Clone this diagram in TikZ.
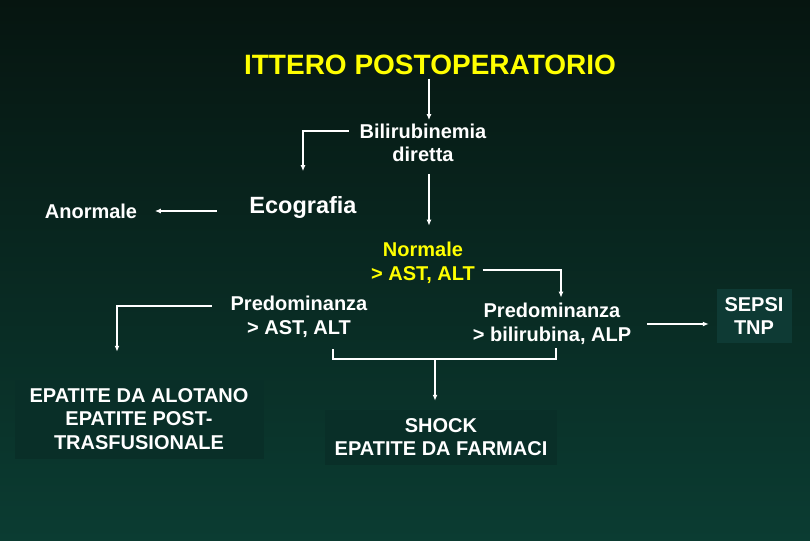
\documentclass[tikz,border=0pt]{standalone}
\usepackage{fontspec}
\setmainfont{Liberation Sans}
\usepackage{tikz}
\usetikzlibrary{arrows.meta,calc}
\definecolor{bgtop}{RGB}{6,21,16}
\definecolor{bgbot}{RGB}{11,60,50}
\definecolor{ttl}{RGB}{255,255,0}
\definecolor{boxfill}{RGB}{9,47,40}
\definecolor{sepfill}{RGB}{14,58,52}

\begin{document}
\begin{tikzpicture}[x=1pt, y=-1pt, -, line width=1.5pt, white, main node/.style={inner sep=3pt, align=center, text=white, font=\fontsize{20}{23.5}\selectfont\bfseries}, head node/.style={main node, text=ttl, font=\fontsize{28}{32}\selectfont\bfseries}, box node/.style={main node, fill=boxfill, inner sep=0pt}, arr/.style={-{Latex[length=6pt,width=5pt]}}]
\shade[top color=bgtop, bottom color=bgbot] (0,0) rectangle (810,540);
\node[head node] (1) at (430,65) {ITTERO POSTOPERATORIO};
\node[main node] (2) at (423,143) {Bilirubinemia\\diretta};
\node[main node, font=\fontsize{23.5}{27}\selectfont\bfseries] (3) at (303,207) {Ecografia};
\node[main node] (4) at (91,211) {Anormale};
\node[main node, text=ttl] (5) at (423,263) {Normale\\> AST, ALT};
\node[main node] (6) at (299,317) {Predominanza\\> AST, ALT};
\node[main node] (7) at (552,324) {Predominanza\\> bilirubina, ALP};
\node[box node, fill=sepfill, minimum width=75pt, minimum height=54pt] (8) at (754,316) {SEPSI\\TNP};
\node[box node, minimum width=249pt, minimum height=79pt] (9) at (139,419) {EPATITE DA ALOTANO\\EPATITE POST-\\TRASFUSIONALE};
\node[box node, minimum width=232pt, minimum height=55pt] (10) at (441,437) {SHOCK\\EPATITE DA FARMACI};
\coordinate (j) at (435,359);
% frecce
\draw[arr] ([xshift=-1pt]1.south) -- ([xshift=-1pt]1.south |- 2.north);
\draw[arr, shorten >=21pt] ([shift={(-7,-12)}]2.west) -| (3.north);
\draw[arr, shorten <=8pt, shorten >=13pt] ([xshift=6pt]2.south) -- ([xshift=6pt]2.south |- 5.north);
\draw[arr, shorten <=29pt, shorten >=14pt] (3.west |- 4.east) -- (4.east);
\draw[arr, shorten >=2pt] ([shift={(4,7)}]5.east) -| ([xshift=9pt]7.north);
\draw[arr, shorten >=27pt] ([shift={(-15,-11)}]6.west) -| ([xshift=-22pt]9.north);
\draw[shorten <=8pt] ([xshift=34pt]6.south) |- (j) -| ([xshift=4pt]7.south);
\draw[arr, shorten >=8pt] (j) -- (j |- 10.north);
\draw[arr, shorten <=12pt, shorten >=7pt] (7.east) -- (7.east -| 8.west);
\end{tikzpicture}
\end{document}
